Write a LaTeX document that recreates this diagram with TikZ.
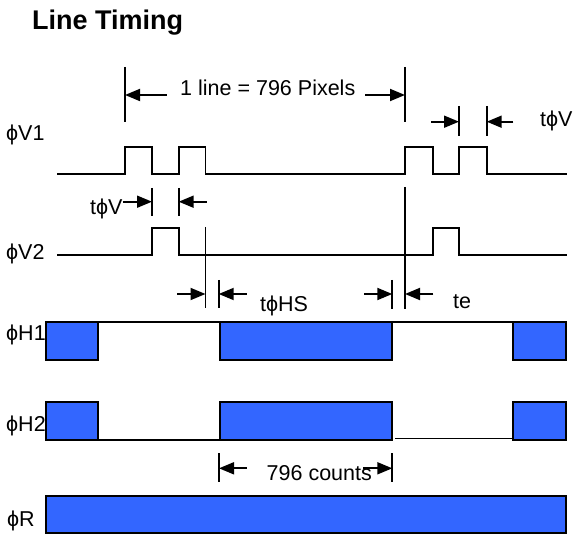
\documentclass[tikz,border=0pt]{standalone}
\usepackage{fontspec}
\setmainfont{Liberation Sans}
\usetikzlibrary{positioning,arrows.meta}
\definecolor{PulseBlue}{RGB}{51,102,255}

\begin{document}
\begin{tikzpicture}[x=1pt,y=-1pt,
sig/.style={line width=1.8pt},
ticks/.style={line width=1.8pt},
blk/.style={draw=black,line width=2pt,fill=PulseBlue},
rail/.style={line width=1.4pt},
dim/.style={-{Triangle[length=15pt,width=12pt]},line width=1.8pt},
lbl/.style={font=\fontsize{21.5}{22}\selectfont,inner sep=0pt,anchor=base west}
]
\useasboundingbox (0,0) rectangle (578,537);
% title and signal names
\node[font=\fontsize{27}{28}\selectfont\bfseries,inner sep=0pt,anchor=base west] (title) at (32,30) {Line Timing};
\node[lbl] (nV1) at (6,141) {ϕV1};
\node[lbl] (nV2) at (6,260) {ϕV2};
\node[lbl] (nH1) at (6,340) {ϕH1};
\node[lbl] (nH2) at (6,431.5) {ϕH2};
\node[lbl] (nR) at (7,526.5) {ϕR};
% timing labels
\node[lbl] (line) at (180,96) {1 line = 796 Pixels};
\node[lbl] (tvR) at (540,127) {tϕV};
\node[lbl] (tvL) at (90,215) {tϕV};
\node[lbl] (ths) at (260,311) {tϕHS};
\node[lbl] (te) at (453,308) {te};
\node[lbl] (cnt) at (266.5,480) {796 counts};

% vertical waveforms
\draw[sig] (57,174) -| (125,147) -| (152,174) -| (178.7,147) -| (205.5,174)
  -| (405,147) -| (432.7,174) -| (459,147) -| (486.7,174) -- (567,174);
\draw[sig] (57,255) -| (152,228) -| (178.7,255) -| (432.7,228)
  -| (459,255) -- (567,255);

% horizontal and reset clocks
\draw[rail] (97.7,322) -- (220,322) (392.3,322) -- (513.3,322);
\foreach \xa/\xb in {46/97.7,220/392.3,513.3/565.7}
  \draw[blk] (\xa,322) rectangle (\xb,360);
\draw[rail] (97.7,440) -- (220,440) (395,438.5) -- (513.3,438.5);
\foreach \xa/\xb in {46/97.7,220/392.3,513.3/565.7}
  \draw[blk] (\xa,401.7) rectangle (\xb,440);
\draw[blk] (46,495.7) rectangle (565.7,533.3);

% marker ticks
\draw[ticks] (125,67) -- (125,122) (405,67) -- (405,122) (405,187) -- (405,309);
\draw[ticks] (459,106) -- (459,136) (486.7,106) -- (486.7,136);
\draw[ticks] (152,188) -- (152,216) (178.7,188) -- (178.7,216);
\draw[ticks] (205.5,227) -- (205.5,308) (218.7,280) -- (218.7,308);
\draw[ticks] (392.3,280) -- (392.3,309);
\draw[ticks] (219,453) -- (219,482) (392.3,453) -- (392.3,482);

% dimension arrows
\coordinate (l1) at (166.7,95); \coordinate (l2) at (125,95);
\coordinate (l3) at (365,95); \coordinate (l4) at (405,95);
\draw[dim] (l1) -- (l2); \draw[dim] (l3) -- (l4);
\coordinate (v1) at (431,121.7); \coordinate (v2) at (459,121.7);
\coordinate (v3) at (513.3,121.7); \coordinate (v4) at (486.7,121.7);
\draw[dim] (v1) -- (v2); \draw[dim] (v3) -- (v4);
\coordinate (w1) at (tvL.east |- 0,201.7); \coordinate (w2) at (152,201.7);
\coordinate (w3) at (206.7,201.7); \coordinate (w4) at (178.7,201.7);
\draw[dim] (w1) -- (w2); \draw[dim] (w3) -- (w4);
\coordinate (h1) at (177,294); \coordinate (h2) at (205.5,294);
\coordinate (h3) at (246.7,294); \coordinate (h4) at (218.7,294);
\draw[dim] (h1) -- (h2); \draw[dim] (h3) -- (h4);
\coordinate (e1) at (364,294); \coordinate (e2) at (392.3,294);
\coordinate (e3) at (433.3,294); \coordinate (e4) at (405,294);
\draw[dim] (e1) -- (e2); \draw[dim] (e3) -- (e4);
\coordinate (c1) at (246.7,468.3); \coordinate (c2) at (219,468.3);
\coordinate (c3) at (363,468.3); \coordinate (c4) at (392.3,468.3);
\draw[dim] (c1) -- (c2); \draw[dim] (c3) -- (c4);
\end{tikzpicture}
\end{document}
